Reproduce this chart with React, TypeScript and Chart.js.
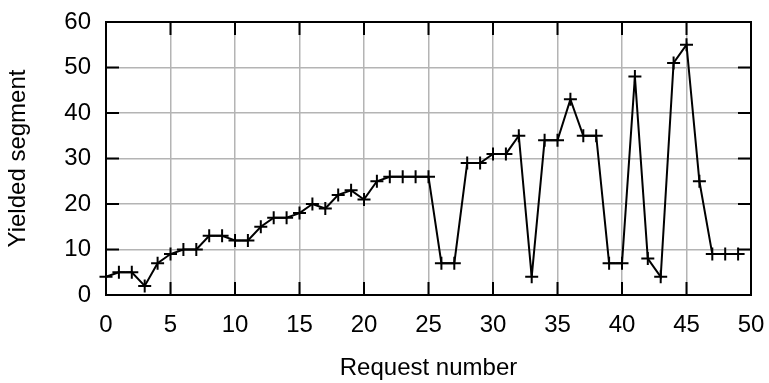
import React, { useEffect, useRef } from "react";
import { Chart, registerables } from "chart.js";

Chart.register(...registerables);

const requestNumbers = [
  0, 1, 2, 3, 4, 5, 6, 7, 8, 9, 10, 11, 12, 13, 14, 15, 16, 17, 18, 19, 20, 21, 22, 23, 24,
  25, 26, 27, 28, 29, 30, 31, 32, 33, 34, 35, 36, 37, 38, 39, 40, 41, 42, 43, 44, 45, 46, 47, 48, 49,
];
const yieldedSegments = [
  4, 5, 5, 2, 7, 9, 10, 10, 13, 13, 12, 12, 15, 17, 17, 18, 20, 19, 22, 23, 21, 25, 26, 26, 26,
  26, 7, 7, 29, 29, 31, 31, 35, 4, 34, 34, 43, 35, 35, 7, 7, 48, 8, 4, 51, 55, 25, 9, 9, 9,
];
const xTitle = "Request number";
const yTitle = "Yielded segment";
const xRange = [0, 50];
const yRange = [0, 60];
const xStep = 5;
const yStep = 10;

const FONT = "'Liberation Sans', Arial, Helvetica, sans-serif";

const frameAndTicks = {
  id: "frameAndTicks",
  beforeDatasetsDraw(chart: any) {
    const { ctx, chartArea } = chart;
    const { left, right, top, bottom } = chartArea;
    const xs = chart.scales.x;
    const ys = chart.scales.y;
    const len = 13;
    ctx.save();
    ctx.strokeStyle = "#000";
    ctx.lineWidth = 2;
    ctx.beginPath();
    xs.ticks.forEach((t: any) => {
      const px = xs.getPixelForValue(t.value);
      ctx.moveTo(px, bottom);
      ctx.lineTo(px, bottom - len);
      ctx.moveTo(px, top);
      ctx.lineTo(px, top + len);
    });
    ys.ticks.forEach((t: any) => {
      const py = ys.getPixelForValue(t.value);
      ctx.moveTo(left, py);
      ctx.lineTo(left + len, py);
      ctx.moveTo(right, py);
      ctx.lineTo(right - len, py);
    });
    ctx.stroke();
    ctx.strokeRect(left, top, right - left, bottom - top);
    ctx.restore();
  },
};

export default function App() {
  const ref = useRef<HTMLCanvasElement | null>(null);

  useEffect(() => {
    document.body.style.margin = "0";
    const canvas = ref.current;
    if (!canvas) return;
    const chart = new Chart(canvas, {
      type: "line",
      data: {
        datasets: [
          {
            data: requestNumbers.map((x, i) => ({ x, y: yieldedSegments[i] })),
            borderColor: "#000",
            backgroundColor: "#000",
            borderWidth: 2,
            pointStyle: "cross",
            pointRadius: 6.5,
            pointBorderWidth: 2,
            pointBorderColor: "#000",
            tension: 0,
            fill: false,
            clip: false as any,
          },
        ],
      },
      options: {
        animation: false,
        responsive: false,
        maintainAspectRatio: false,
        layout: { padding: { top: 22, right: 18, left: 0, bottom: 0 } },
        plugins: { legend: { display: false }, tooltip: { enabled: false } },
        scales: {
          x: {
            type: "linear",
            min: xRange[0],
            max: xRange[1],
            afterFit: (s: any) => {
              s.height = 88;
              s.paddingLeft = 0;
              s.paddingRight = 0;
            },
            ticks: {
              stepSize: xStep,
              padding: 16,
              color: "#000",
              font: { family: FONT, size: 24 },
              maxRotation: 0,
            },
            grid: { color: "#b4b4b4", lineWidth: 1.5, drawTicks: false },
            border: { display: false },
            title: {
              display: true,
              text: xTitle,
              color: "#000",
              font: { family: FONT, size: 24, lineHeight: 1.2 },
              padding: { top: 0, bottom: 0 },
            },
          },
          y: {
            type: "linear",
            min: yRange[0],
            max: yRange[1],
            afterFit: (s: any) => {
              s.width = 106;
              s.paddingTop = 0;
              s.paddingBottom = 0;
            },
            ticks: {
              stepSize: yStep,
              padding: 15,
              color: "#000",
              font: { family: FONT, size: 24 },
            },
            grid: { color: "#b4b4b4", lineWidth: 1.5, drawTicks: false },
            border: { display: false },
            title: {
              display: true,
              text: yTitle,
              color: "#000",
              font: { family: FONT, size: 24, lineHeight: 1.2 },
              padding: { top: 4, bottom: 0 },
            },
          },
        },
      },
      plugins: [frameAndTicks],
    });
    return () => chart.destroy();
  }, []);

  return (
    <div style={{ position: "absolute", left: 0, top: 0, width: 769, height: 383 }}>
      <canvas ref={ref} width={769} height={383} style={{ width: 769, height: 383 }} />
    </div>
  );
}
